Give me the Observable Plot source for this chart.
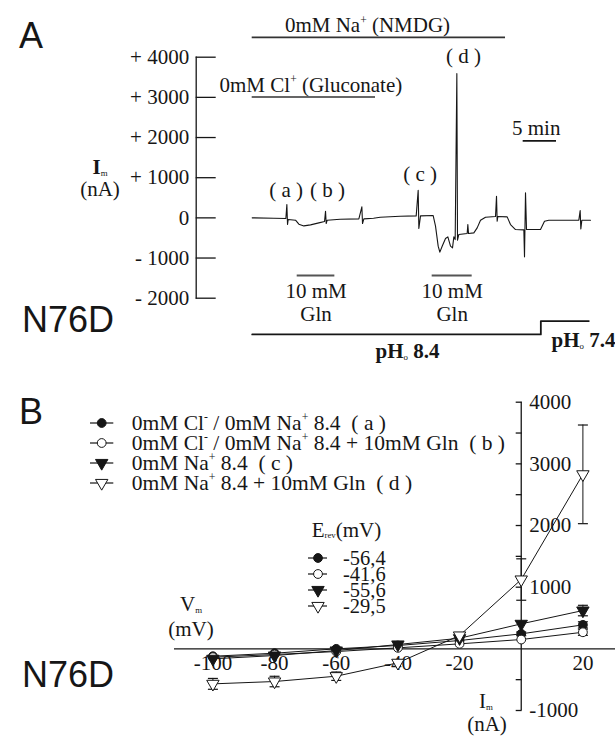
<!DOCTYPE html>
<html><head><meta charset="utf-8">
<script src="https://cdn.jsdelivr.net/npm/d3@7"></script>
<script src="https://cdn.jsdelivr.net/npm/@observablehq/plot@0.6"></script>
<style>
html,body{margin:0;padding:0;background:#fff;}
#fig{position:relative;width:615px;height:736px;overflow:hidden;background:#fff;}
#fig svg{position:absolute;left:0;}
text{white-space:pre;}
</style></head><body><div id="fig"></div>
<script>
// ---------------- Panel A data: current trace (time in min, current in nA)
const traceTime = [0, 3.25, 5.05, 5.2, 5.3, 5.4, 6.5, 7.0, 7.75, 8.75, 10.0, 10.85, 11.0, 11.1, 11.25, 13.2, 16.0, 16.45, 16.55, 16.75, 18.2, 19.2, 22.2, 24.6, 24.9, 25.0, 25.25, 27.15, 27.5, 27.9, 28.15, 28.5, 29.0, 29.35, 29.75, 30.05, 30.25, 30.45, 30.7, 30.8, 31.0, 32.25, 32.35, 32.45, 33.25, 33.75, 34.25, 35.0, 36.5, 36.65, 36.75, 36.85, 38.25, 38.75, 39.5, 40.75, 40.85, 41.0, 41.15, 43.25, 43.85, 44.5, 49.0, 49.2, 49.3, 49.45, 50.75];
const traceCurrent = [0, -8, -17, 330, -165, -40, -58, -158, -200, -174, -124, -91, 166, -141, -58, -33, -25, 274, -141, -25, -8, 17, 41, 50, 688, -265, 50, 58, -207, -705, -854, -705, -514, -472, -705, -746, -472, -540, 3590, -555, -414, -390, -166, -390, -373, -249, -58, 17, 33, 539, -83, 33, 25, -166, -290, -298, -970, 622, -290, -290, -83, -58, -58, 182, -274, -58, -58];
const yTicksA = [4000, 3000, 2000, 1000, 0, -1000, -2000];
// solution bars (start/end in min, drawn at level in nA)
const solutionLabels = ["0mM Na^{+} (NMDG)", "0mM Cl^{+} (Gluconate)"];
const solutionStart = [0, 0];
const solutionEnd = [38, 18.5];
const solutionLevel = [4493, 3010];
const solutionLabelTime = [17.3, 8.8];
const solutionLabelLevel = [4619, 3139];
// glutamine applications
const glnStart = [6.75, 27.0];
const glnEnd = [12.4, 33.0];
const glnLevel = -1435;
const glnLabel = "10 mM\nGln";
// pH protocol
const phValues = ["8.4", "7.4"];
const phStart = [0, 43.3];
const phEnd = [43.3, 50.5];
const phLevel = [-2903, -2570];
const phLabelTime = [23.3, 44.9];
const phLabelLevel = [-3490, -3216];
// sample markers and time scale bar
const sampleTags = ["( a )", "( b )", "( c )", "( d )"];
const sampleTime = [5.1, 11.3, 25.2, 31.7];
const sampleLevel = [515, 515, 913, 3848];
const scaleBarStart = 40.65, scaleBarEnd = 45.65, scaleBarLevel = 1918;
const scaleBarLabel = "5 min", scaleBarLabelTime = 42.6, scaleBarLabelLevel = 2057;

// ---------------- Panel B data: I-V curves
const voltages = [-100, -80, -60, -40, -20, 0, 20];
const currentSeriesA = [-120, -71, 0, 54, 135, 243, 389];
const currentSeriesB = [-136, -92, -44, 16, 81, 151, 269];
const currentSeriesC = [-162, -109, -28, 70, 172, 405, 621];
const currentSeriesD = [-568, -530, -444, -227, 216, 1124, 2830];
const semSeriesA = [0, 0, 0, 0, 0, 30, 50];
const semSeriesB = [0, 0, 0, 0, 0, 0, 50];
const semSeriesC = [0, 0, 0, 0, 0, 0, 85];
const semSeriesD = [88, 85, 68, 0, 40, 336, 800];
const seriesLabels = [
  "0mM Cl^{-} / 0mM Na^{+} 8.4  ( a )",
  "0mM Cl^{-} / 0mM Na^{+} 8.4 + 10mM Gln  ( b )",
  "0mM Na^{+} 8.4  ( c )",
  "0mM Na^{+} 8.4 + 10mM Gln  ( d )"
];
const erevValues = ["-56,4", "-41,6", "-55,6", "-29,5"];
const yTicksB = [4000, 3000, 2000, 1000, -1000];
const yMinorTicksB = [3500, 2500, 1500, -500];
const xTickLabelsB = [-100, -80, -60, -40, -20, 20];

// ---------------- styles
const SERIF = "'Liberation Serif','Times New Roman',Times,serif";
const SANS = "'Liberation Sans',Arial,Helvetica,sans-serif";
const INK = "#161616";
const FS = 21;
const seriesStyle = [
  {symbol: "circle", type: d3.symbolCircle, fill: INK, rotate: 0, r: 4.4},
  {symbol: "circle", type: d3.symbolCircle, fill: "white", rotate: 0, r: 4.4},
  {symbol: "triangle", type: d3.symbolTriangle, fill: INK, rotate: 180, r: 4.6},
  {symbol: "triangle", type: d3.symbolTriangle, fill: "white", rotate: 180, r: 4.6}
];
const capSymbol = {draw(ctx, size) { const w = Math.sqrt(size / Math.PI); ctx.moveTo(-w, 0); ctx.lineTo(w, 0); }};

function richify(el, fs) {
  const s = el.textContent;
  if (!/[\^_]\{/.test(s)) return;
  const parts = s.split(/(\^\{[^}]*\}|_\{[^}]*\})/).filter(p => p.length);
  while (el.firstChild) el.removeChild(el.firstChild);
  let cur = 0;
  for (const p of parts) {
    const ts = document.createElementNS("http://www.w3.org/2000/svg", "tspan");
    let target = 0, txt = p;
    if (p.startsWith("^{")) { txt = p.slice(2, -1); target = -0.42 * fs; ts.setAttribute("font-size", 0.55 * fs); }
    else if (p.startsWith("_{")) { txt = p.slice(2, -1); target = 0.08 * fs; ts.setAttribute("font-size", 0.42 * fs); ts.setAttribute("font-weight", "normal"); }
    if (target - cur) ts.setAttribute("dy", target - cur);
    cur = target;
    ts.textContent = txt;
    el.appendChild(ts);
  }
}
function addText(g, x, y, str, opts = {}) {
  const fs = opts.size || FS;
  const t = g.append("text").attr("x", x).attr("y", y).attr("font-size", fs)
    .attr("font-family", opts.family || SERIF).attr("fill", INK)
    .attr("text-anchor", opts.anchor || "start").attr("font-weight", opts.weight || "normal").text(str);
  richify(t.node(), fs);
  return t;
}

// ---------------- Panel A
const trace = traceTime.map((t, i) => ({t, I: traceCurrent[i]}));
const solutions = solutionLabels.map((label, i) => ({label, start: solutionStart[i], end: solutionEnd[i], level: solutionLevel[i], lt: solutionLabelTime[i], ll: solutionLabelLevel[i]}));
const gln = glnStart.map((s, i) => ({start: s, end: glnEnd[i]}));
const phLine = phValues.flatMap((v, i) => [{t: phStart[i], I: phLevel[i]}, {t: phEnd[i], I: phLevel[i]}]);
const phLabels = phValues.map((v, i) => ({label: "pH_{o} " + v, t: phLabelTime[i], I: phLabelLevel[i]}));
const samples = sampleTags.map((tag, i) => ({tag, t: sampleTime[i], I: sampleLevel[i]}));
const fmtA = d => d > 0 ? "+ " + d : d < 0 ? "- " + (-d) : "0";

const plotA = Plot.plot({
  width: 615, height: 370,
  marginLeft: 195.7, marginRight: 25, marginTop: 56.7, marginBottom: 72.3,
  x: {domain: d3.extent(traceTime), insetLeft: 56, axis: null, label: null},
  y: {domain: d3.extent(yTicksA), label: null},
  style: {fontFamily: SERIF, fontSize: FS + "px", color: INK, background: "transparent", overflow: "visible"},
  marks: [
    Plot.frame({anchor: "left", stroke: INK, strokeWidth: 1.3}),
    Plot.axisY({ticks: yTicksA, anchor: "left", label: null, tickSize: -20, tickPadding: 27, tickFormat: fmtA, strokeWidth: 1.3, fontSize: FS}),
    Plot.ruleY(solutions, {x1: "start", x2: "end", y: "level", stroke: "#333", strokeWidth: 1.6}),
    Plot.text(solutions, {x: "lt", y: "ll", text: "label", lineAnchor: "bottom"}),
    Plot.ruleY(gln, {x1: "start", x2: "end", y: () => glnLevel, stroke: "#555", strokeWidth: 2}),
    Plot.text(gln, {x: d => (d.start + d.end) / 2, y: () => glnLevel, text: () => glnLabel, lineAnchor: "top", dy: 6, lineHeight: 1.1}),
    Plot.line(phLine, {x: "t", y: "I", stroke: INK, strokeWidth: 1.8}),
    Plot.text(phLabels.slice(0, 1), {x: "t", y: "I", text: "label", lineAnchor: "bottom", fontWeight: "bold"}),
    Plot.text(phLabels.slice(1), {x: "t", y: "I", text: "label", lineAnchor: "bottom", textAnchor: "start", fontWeight: "bold"}),
    Plot.ruleY([scaleBarLevel], {x1: scaleBarStart, x2: scaleBarEnd, stroke: INK, strokeWidth: 1.8}),
    Plot.text([scaleBarLabel], {x: scaleBarLabelTime, y: scaleBarLabelLevel, lineAnchor: "bottom"}),
    Plot.text(samples, {x: "t", y: "I", text: "tag", lineAnchor: "bottom"}),
    Plot.line(trace, {x: "t", y: "I", stroke: INK, strokeWidth: 1.1})
  ]
});
plotA.style.top = "0px";
d3.select(plotA).selectAll("text").each(function() { if (!this.querySelector("tspan")) richify(this, FS); });
{
  const g = d3.select(plotA).append("g");
  addText(g, 19, 48, "A", {family: SANS, size: 36});
  addText(g, 22, 331.7, "N76D", {family: SANS, size: 36});
  addText(g, 100, 174, "I_{m}", {anchor: "middle", weight: "bold"});
  addText(g, 100, 196, "(nA)", {anchor: "middle"});
}

// ---------------- Panel B
const currents = [currentSeriesA, currentSeriesB, currentSeriesC, currentSeriesD];
const sems = [semSeriesA, semSeriesB, semSeriesC, semSeriesD];
const iv = currents.flatMap((arr, s) => arr.map((I, k) => ({series: s, V: voltages[k], I, err: sems[s][k]})));
const withErr = iv.filter(d => d.err > 0);
const caps = withErr.flatMap(d => [{V: d.V, I: d.I - d.err}, {V: d.V, I: d.I + d.err}]);
const fmtB = d => d < 0 ? "-" + (-d) : String(d);

const plotB = Plot.plot({
  width: 615, height: 366,
  marginLeft: 212.4, marginRight: 94.3, marginTop: 31.7, marginBottom: 26,
  x: {domain: d3.extent(voltages), insetRight: -61.7, axis: null, label: null},
  y: {domain: d3.extent(yTicksB), label: null},
  style: {fontFamily: SERIF, fontSize: FS + "px", color: INK, background: "transparent", overflow: "visible"},
  marks: [
    Plot.ruleY([0], {stroke: INK, strokeWidth: 1.3, insetLeft: -38.4, insetRight: -94.3}),
    Plot.ruleX([0], {y1: d3.min(yTicksB), y2: d3.max(yTicksB), stroke: INK, strokeWidth: 1.3}),
    Plot.axisY({ticks: yTicksB, anchor: "right", label: null, tickSize: -6, tickPadding: 14, tickFormat: fmtB, strokeWidth: 1.3, fontSize: FS}),
    Plot.axisY({ticks: yMinorTicksB, anchor: "right", label: null, tickSize: -6, tickFormat: () => "", strokeWidth: 1.3}),
    Plot.text(xTickLabelsB, {x: d => d, y: 0, dy: 21, lineAnchor: "bottom", text: fmtB}),
    Plot.line(iv, {x: "V", y: "I", z: "series", stroke: INK, strokeWidth: 1}),
    Plot.ruleX(withErr, {x: "V", y1: d => d.I - d.err, y2: d => d.I + d.err, stroke: INK, strokeWidth: 1}),
    Plot.dot(caps, {x: "V", y: "I", symbol: capSymbol, r: 5, stroke: INK, strokeWidth: 1.2}),
    ...seriesStyle.map((st, s) => Plot.dot(iv.filter(d => d.series === s), {
      x: "V", y: "I", symbol: st.symbol, rotate: st.rotate, r: st.r, fill: st.fill, stroke: INK, strokeWidth: 1
    }))
  ]
});
plotB.style.top = "370px";
d3.select(plotB).selectAll("text").each(function() { if (!this.querySelector("tspan")) richify(this, FS); });
{
  const g = d3.select(plotB).append("g");
  addText(g, 19, 54, "B", {family: SANS, size: 36});
  addText(g, 22, 317, "N76D", {family: SANS, size: 36});
  addText(g, 191, 241, "V_{m}", {anchor: "middle"});
  addText(g, 191, 266, "(mV)", {anchor: "middle"});
  addText(g, 486, 338, "I_{m}", {anchor: "middle"});
  addText(g, 487, 361, "(nA)", {anchor: "middle"});
  // series legend
  const rowY = [53, 73, 93, 113];
  seriesStyle.forEach((st, i) => {
    const cy = rowY[i];
    g.append("line").attr("x1", 90).attr("x2", 113.3).attr("y1", cy).attr("y2", cy).attr("stroke", INK).attr("stroke-width", 1.2);
    g.append("path").attr("d", d3.symbol(st.type, Math.PI * st.r * st.r)())
      .attr("transform", `translate(101.7,${cy}) rotate(${st.rotate})`).attr("fill", st.fill).attr("stroke", INK);
    addText(g, 131.7, cy + 7.3, seriesLabels[i], {size: 21.5});
  });
  // reversal potential legend
  addText(g, 311.7, 166.7, "E_{rev}(mV)");
  const erY = [188, 204, 220, 236];
  seriesStyle.forEach((st, i) => {
    const cy = erY[i];
    g.append("line").attr("x1", 308).attr("x2", 327).attr("y1", cy).attr("y2", cy).attr("stroke", INK).attr("stroke-width", 1.2);
    g.append("path").attr("d", d3.symbol(st.type, Math.PI * st.r * st.r)())
      .attr("transform", `translate(318,${cy}) rotate(${st.rotate})`).attr("fill", st.fill).attr("stroke", INK);
    addText(g, 343, cy + 7, erevValues[i], {size: 20.5});
  });
}
document.getElementById("fig").append(plotA, plotB);
</script></body></html>
